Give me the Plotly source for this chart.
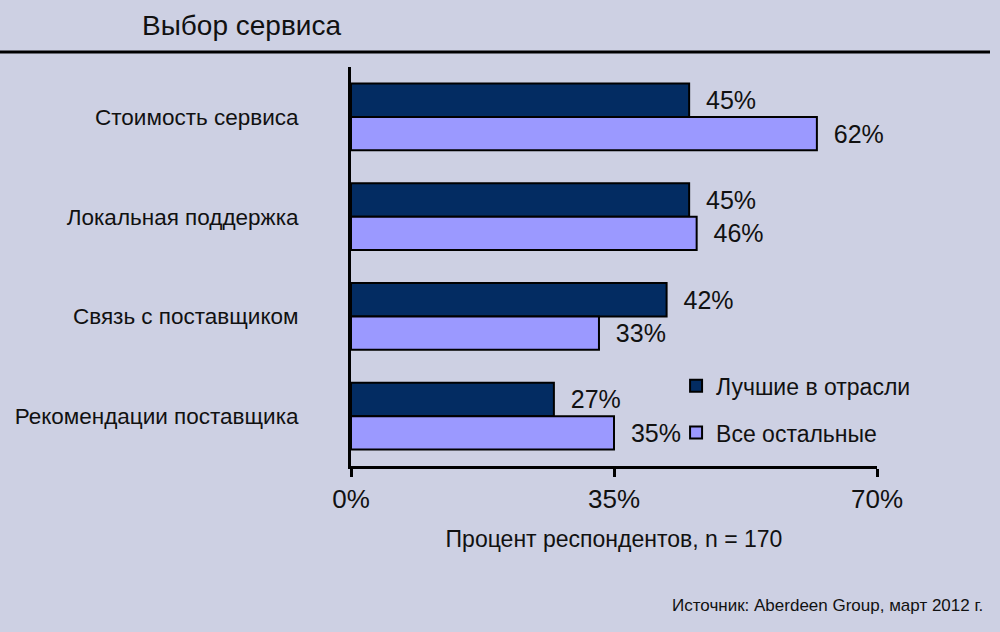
import plotly.graph_objects as go

categories = ["Стоимость сервиса", "Локальная поддержка", "Связь с поставщиком", "Рекомендации поставщика"]
best_in_class = [45, 45, 42, 27]
all_others = [62, 46, 33, 35]
series_names = ["Лучшие в отрасли", "Все остальные"]
x_ticks = [0, 35, 70]
x_tick_labels = ["0%", "35%", "70%"]

FONT = "Liberation Sans, Arial, sans-serif"
BG = "#CDD0E3"
PAD = "\u00a0\u00a0"

fig = go.Figure()
fig.add_trace(go.Bar(
    y=categories, x=best_in_class, orientation="h", name=series_names[0],
    marker=dict(color="#032C62", line=dict(color="#000000", width=2)),
    text=[f"{PAD}{v}%" for v in best_in_class], textposition="outside",
    textfont=dict(size=25, color="#111111", family=FONT), cliponaxis=False,
    legendgroup="a",
))
fig.add_trace(go.Bar(
    y=categories, x=all_others, orientation="h", name=series_names[1],
    marker=dict(color="#9B99FF", line=dict(color="#000000", width=2)),
    text=[f"{PAD}{v}%" for v in all_others], textposition="outside",
    textfont=dict(size=25, color="#111111", family=FONT), cliponaxis=False,
    legendgroup="b",
))

fig.update_layout(
    width=1000, height=632,
    paper_bgcolor=BG, plot_bgcolor=BG,
    margin=dict(l=351, r=123, t=67, b=166, autoexpand=False),
    barmode="group", bargap=0.33, bargroupgap=0,
    font=dict(family=FONT, color="#111111"),
    title=dict(text="Выбор сервиса", x=0.142, xanchor="left", xref="container",
               y=1 - 25 / 632, yanchor="middle", yref="container",
               font=dict(size=28, color="#111111", family=FONT)),
    showlegend=True,
    legend=dict(x=0.618, y=0.255, xanchor="left", yanchor="top",
                bgcolor="rgba(0,0,0,0)", font=dict(size=23, family=FONT),
                traceorder="grouped", tracegroupgap=14),
    xaxis=dict(range=[0, 70], tickvals=x_ticks, ticktext=x_tick_labels, automargin=False,
               showgrid=False, zeroline=False, showline=True, linecolor="#000000",
               linewidth=3, ticks="outside", ticklen=8, tickwidth=3, tickcolor="#000000",
               tickfont=dict(size=26, family=FONT, color="#111111"),
               title=dict(text="Процент респондентов, n = 170", standoff=18,
                          font=dict(size=23, family=FONT, color="#111111"))),
    yaxis=dict(autorange="reversed", showgrid=False, zeroline=False, showline=True,
               automargin=False,
               linecolor="#000000", linewidth=3, ticks="", ticklabelstandoff=45,
               tickfont=dict(size=22.5, family=FONT, color="#111111")),
    shapes=[dict(type="line", xref="paper", yref="paper",
                 x0=-351 / 526, x1=(990 - 351) / 526,
                 y0=(466 - 52) / 399, y1=(466 - 52) / 399,
                 line=dict(color="#000000", width=3))],
    annotations=[dict(text="Источник: Aberdeen Group, март 2012 г.", xref="paper", yref="paper",
                      x=(985 - 351) / 526, y=(466 - 605) / 399, xanchor="right", yanchor="middle",
                      showarrow=False, font=dict(size=17, family=FONT, color="#111111"))],
)

fig.write_html("out.html")
